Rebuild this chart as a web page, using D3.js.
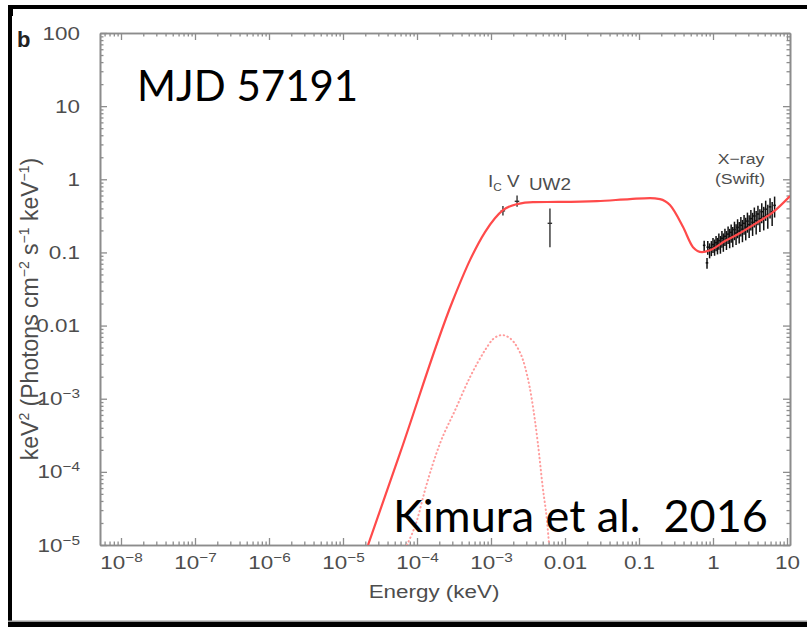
<!DOCTYPE html>
<html>
<head>
<meta charset="utf-8">
<script src="https://cdn.jsdelivr.net/npm/d3@7"></script>
<style>
  body { margin: 0; background: #fff; }
  svg { display: block; }
  .tick text { font-family: "Liberation Sans", Arial, sans-serif; fill: #4d4d4d; }
</style>
</head>
<body>
<div id="chart"></div>
<script>
// model curve (total), keV vs keV^2 photons cm^-2 s^-1 keV^-1
var modelE = [2.18e-5, 5.9e-5, 3.06e-4, 5.2e-4, 8.3e-4, 1.13e-3, 1.45e-3, 2.25e-3, 3.7e-3, 8.6e-3,
              0.027, 0.0755, 0.141, 0.192, 0.262, 0.394, 0.537, 0.71, 0.91, 1.45, 2.32, 3.93, 6.47, 11];
var modelF = [1e-5, 1.8e-4, 0.0222, 0.0785, 0.19, 0.294, 0.379, 0.458, 0.488, 0.49,
              0.503, 0.536, 0.553, 0.536, 0.444, 0.222, 0.118, 0.101, 0.107, 0.143, 0.184, 0.255, 0.355, 0.589];

// dotted component
var compE = [7.3e-5, 1.0e-4, 1.28e-4, 2.05e-4, 3.27e-4, 5.2e-4, 8.3e-4, 1.06e-3, 1.41e-3, 1.81e-3,
             2.25e-3, 2.7e-3, 3.58e-3, 4.3e-3, 5.0e-3, 5.7e-3, 6.1e-3];
var compF = [1e-5, 2.18e-5, 5.6e-5, 2.46e-4, 6.97e-4, 1.97e-3, 4.6e-3, 6.5e-3, 7.4e-3, 6.7e-3,
             5.1e-3, 3.4e-3, 9.5e-4, 2.46e-4, 6.2e-5, 2.18e-5, 1e-5];

// optical / UV points
var optNames = ["Ic", "V", "UW2"];
var optE = [1.45e-3, 2.25e-3, 6.26e-3];
var optF = [0.37, 0.5, 0.25];
var optLo = [0.32, 0.42, 0.118];
var optHi = [0.43, 0.6, 0.40];

// Swift X-ray points
var xrayE = [0.76, 0.83, 0.85, 0.9, 0.95, 1.0, 1.05, 1.1, 1.15, 1.2, 1.26, 1.32, 1.38, 1.45, 1.52, 1.6,
             1.68, 1.76, 1.85, 1.95, 2.05, 2.15, 2.26, 2.38, 2.5, 2.63, 2.77, 2.92, 3.08, 3.25,
             3.43, 3.62, 3.83, 4.05, 4.3, 4.56, 4.85, 5.15, 5.5, 5.9, 6.3, 6.8];
var xrayF = [0.125, 0.072, 0.118, 0.108, 0.116, 0.128, 0.12, 0.136, 0.126, 0.145, 0.132, 0.156, 0.142, 0.166,
             0.152, 0.178, 0.162, 0.188, 0.17, 0.205, 0.184, 0.22, 0.196, 0.235, 0.208, 0.25, 0.222,
             0.268, 0.24, 0.29, 0.258, 0.315, 0.272, 0.335, 0.29, 0.36, 0.31, 0.39, 0.33, 0.42, 0.36, 0.44];
var xrayErr = [0.02, 0.012, 0.025, 0.025, 0.027, 0.03, 0.03, 0.032, 0.032, 0.036, 0.036, 0.04, 0.04, 0.044,
               0.044, 0.048, 0.048, 0.052, 0.052, 0.058, 0.058, 0.064, 0.064, 0.07, 0.07, 0.076, 0.076,
               0.082, 0.082, 0.09, 0.09, 0.096, 0.096, 0.1, 0.1, 0.11, 0.11, 0.12, 0.12, 0.13, 0.13, 0.14];

var xMajor = [-8, -7, -6, -5, -4, -3, -2, -1, 0, 1];
var yMajor = [-5, -4, -3, -2, -1, 0, 1, 2];

var W = 807, H = 627;
var mLeft = 100, mRight = 790, mTop = 33, mBottom = 545;
var stretch = 1.18;   // labels in the picture are wider than tall

var svg = d3.select('#chart').append('svg')
    .attr('width', W)
    .attr('height', H);

// frame
svg.append('rect').attr('x', 8).attr('y', 5).attr('width', W - 8).attr('height', 4).attr('fill', '#000');
svg.append('rect').attr('x', 8).attr('y', 5).attr('width', 4).attr('height', H - 5).attr('fill', '#000');
svg.append('rect').attr('x', 8).attr('y', 5).attr('width', 5).attr('height', 11).attr('fill', '#000');
svg.append('rect').attr('x', 8).attr('y', 622).attr('width', W - 8).attr('height', 5).attr('fill', '#000');
svg.append('rect').attr('x', 8).attr('y', 620.5).attr('width', W - 8).attr('height', 1.5).attr('fill', '#999');

var x = d3.scaleLog()
    .domain([Math.pow(10, -8 - 21 / 74), Math.pow(10, -8 + 669 / 74)])
    .range([mLeft, mRight]);

var y = d3.scaleLog()
    .domain([1e-5, 100])
    .range([mBottom, mTop]);

function minors(scale) {
    var d = scale.domain(), out = [];
    for (var p = Math.floor(Math.log10(d[0])); p <= Math.ceil(Math.log10(d[1])); p++) {
        for (var k = 2; k <= 9; k++) {
            var v = k * Math.pow(10, p);
            if (v >= d[0] && v <= d[1]) out.push(v);
        }
    }
    return out;
}

function pow10(p) { return +('1e' + p); }

function setLabel(sel, p) {
    sel.text(null);
    if (p >= -2) {
        sel.text(p >= 0 ? String(pow10(p)) : pow10(p).toFixed(-p));
    } else {
        sel.append('tspan').text('10');
        sel.append('tspan').attr('dy', -7).attr('font-size', 13).text('\u2212' + (-p));
    }
}

var axisColor = '#8c8c8c';

function styleAxis(g) {
    g.select('.domain').attr('stroke', axisColor).attr('stroke-width', 1.6);
    g.selectAll('.tick line').attr('stroke', axisColor).attr('stroke-width', 1.3);
}

// bottom
var gb = svg.append('g').attr('transform', 'translate(0,' + mBottom + ')')
    .call(d3.axisBottom(x).tickValues(xMajor.map(pow10)).tickSize(-7).tickPadding(11).tickSizeOuter(0))
    .call(styleAxis);
gb.selectAll('.tick text').attr('font-size', 19).attr('transform', 'scale(' + stretch + ',1)')
    .each(function(d) { setLabel(d3.select(this), Math.round(Math.log10(d))); });
svg.append('g').attr('transform', 'translate(0,' + mBottom + ')')
    .call(d3.axisBottom(x).tickValues(minors(x)).tickSize(-3.5).tickFormat('').tickSizeOuter(0))
    .call(styleAxis);

// top
svg.append('g').attr('transform', 'translate(0,' + mTop + ')')
    .call(d3.axisTop(x).tickValues(xMajor.map(pow10)).tickSize(-7).tickFormat('').tickSizeOuter(0))
    .call(styleAxis);
svg.append('g').attr('transform', 'translate(0,' + mTop + ')')
    .call(d3.axisTop(x).tickValues(minors(x)).tickSize(-3.5).tickFormat('').tickSizeOuter(0))
    .call(styleAxis);

// left
var gl = svg.append('g').attr('transform', 'translate(' + mLeft + ',0)')
    .call(d3.axisLeft(y).tickValues(yMajor.map(pow10)).tickSize(-7).tickPadding(17).tickSizeOuter(0))
    .call(styleAxis);
gl.selectAll('.tick text').attr('font-size', 19).attr('transform', 'scale(' + stretch + ',1)')
    .each(function(d) { setLabel(d3.select(this), Math.round(Math.log10(d))); });
svg.append('g').attr('transform', 'translate(' + mLeft + ',0)')
    .call(d3.axisLeft(y).tickValues(minors(y)).tickSize(-3.5).tickFormat('').tickSizeOuter(0))
    .call(styleAxis);

// right
svg.append('g').attr('transform', 'translate(' + mRight + ',0)')
    .call(d3.axisRight(y).tickValues(yMajor.map(pow10)).tickSize(-7).tickFormat('').tickSizeOuter(0))
    .call(styleAxis);
svg.append('g').attr('transform', 'translate(' + mRight + ',0)')
    .call(d3.axisRight(y).tickValues(minors(y)).tickSize(-3.5).tickFormat('').tickSizeOuter(0))
    .call(styleAxis);

// clip
svg.append('clipPath').attr('id', 'plot')
    .append('rect').attr('x', mLeft).attr('y', mTop).attr('width', mRight - mLeft).attr('height', mBottom - mTop);

var plot = svg.append('g').attr('clip-path', 'url(#plot)');

var line = d3.line()
    .x(function(d) { return x(d[0]); })
    .y(function(d) { return y(d[1]); })
    .curve(d3.curveMonotoneX);

plot.append('path')
    .datum(d3.zip(compE, compF))
    .attr('d', line)
    .attr('fill', 'none')
    .attr('stroke', '#ff9c9c')
    .attr('stroke-width', 2)
    .attr('stroke-linecap', 'round')
    .attr('stroke-dasharray', '0.5,3.5');

// X-ray points
var xr = plot.append('g').attr('stroke', '#111').attr('stroke-width', 1.5);
xrayE.forEach(function(e, i) {
    var f = xrayF[i], df = xrayErr[i];
    xr.append('line')
        .attr('x1', x(e * 0.96)).attr('x2', x(e * 1.04))
        .attr('y1', y(f)).attr('y2', y(f));
    xr.append('line')
        .attr('x1', x(e)).attr('x2', x(e))
        .attr('y1', y(f - df)).attr('y2', y(f + df));
});

// optical / UV points
var op = plot.append('g').attr('stroke', '#333').attr('stroke-width', 1.4);
optE.forEach(function(e, i) {
    op.append('line')
        .attr('x1', x(e * 0.93)).attr('x2', x(e * 1.07))
        .attr('y1', y(optF[i])).attr('y2', y(optF[i]));
    op.append('line')
        .attr('x1', x(e)).attr('x2', x(e))
        .attr('y1', y(optLo[i])).attr('y2', y(optHi[i]));
});

plot.append('path')
    .datum(d3.zip(modelE, modelF))
    .attr('d', line)
    .attr('fill', 'none')
    .attr('stroke', '#ff4a4a')
    .attr('stroke-width', 2.2);

// annotations
var small = 'Liberation Sans, Arial, sans-serif';
function label(px, py, size, anchor) {
    return svg.append('text')
        .attr('transform', 'translate(' + px + ',' + py + ') scale(' + stretch + ',1)')
        .attr('text-anchor', anchor || 'start')
        .attr('font-family', small).attr('font-size', size).attr('fill', '#4d4d4d');
}

var ic = label(x(optE[0]) - 15, 187, 16);
ic.append('tspan').text('I');
ic.append('tspan').attr('dy', 4).attr('font-size', 10).text('C');
ic.append('tspan').attr('dy', -4).text(' V');

label(x(optE[2]), 190, 16, 'middle').text('UW2');
label(741, 164, 15, 'middle').text('X\u2212ray');
label(740, 184, 15, 'middle').text('(Swift)');

// axis titles
label(434, 598, 19, 'middle').text('Energy (keV)');

var yl = svg.append('text')
    .attr('transform', 'translate(38,309) rotate(-90)')
    .attr('text-anchor', 'middle')
    .attr('font-family', small).attr('font-size', 23).attr('fill', '#4d4d4d');
yl.append('tspan').text('keV');
yl.append('tspan').attr('dy', -9).attr('font-size', 14).text('2');
yl.append('tspan').attr('dy', 9).text(' (Photons cm');
yl.append('tspan').attr('dy', -9).attr('font-size', 14).text('\u22122');
yl.append('tspan').attr('dy', 9).text(' s');
yl.append('tspan').attr('dy', -9).attr('font-size', 14).text('\u22121');
yl.append('tspan').attr('dy', 9).text(' keV');
yl.append('tspan').attr('dy', -9).attr('font-size', 14).text('\u22121');
yl.append('tspan').attr('dy', 9).text(')');

svg.append('text').attr('x', 17).attr('y', 47)
    .attr('font-family', small).attr('font-weight', 'bold').attr('font-size', 22).attr('fill', '#222').text('b');

svg.append('text').attr('x', 137).attr('y', 101)
    .attr('font-family', 'Lato, sans-serif').attr('font-size', 42).attr('fill', '#000').text('MJD 57191');
svg.append('text').attr('x', 393).attr('y', 532)
    .attr('font-family', 'Lato, sans-serif').attr('font-size', 45).attr('fill', '#000')
    .attr('xml:space', 'preserve').style('white-space', 'pre').text('Kimura et al.  2016');
</script>
</body>
</html>
